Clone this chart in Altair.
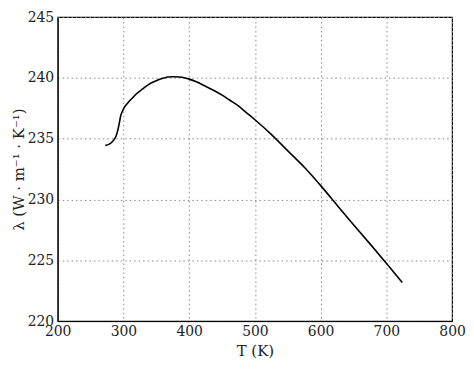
import altair as alt
import pandas as pd

T_K = [272.5, 278.5, 283, 286, 289, 291, 293.5, 296.2, 298, 300.5, 306, 313.7, 320, 328.8,
       338, 349, 360, 374, 386, 399, 411, 424, 437, 449.5, 462, 474.8, 487, 500.1,
       525.3, 550.5, 575.6, 600.8, 626, 651.3, 676.4, 701.6, 724.2]
lam = [234.45, 234.55, 234.75, 234.94, 235.25, 235.6, 236.2, 236.96, 237.2, 237.5, 237.9, 238.35, 238.7, 239.07,
       239.45, 239.75, 239.98, 240.1, 240.08, 239.92, 239.68, 239.34, 238.98, 238.6, 238.16, 237.7, 237.15, 236.56,
       235.34, 233.98, 232.63, 231.1, 229.46, 227.84, 226.27, 224.65, 223.17]

x_ticks = [200, 300, 400, 500, 600, 700, 800]
y_ticks = [220, 225, 230, 235, 240, 245]

df = pd.DataFrame({"T": T_K, "lam": lam})

font = "DejaVu Serif"

chart = alt.Chart(df).mark_line(color="black", strokeWidth=1.6, interpolate="monotone").encode(
    x=alt.X("T:Q",
            scale=alt.Scale(domain=[200, 800], nice=False, zero=False),
            axis=alt.Axis(values=x_ticks, title="T (K)", format="d",
                          labelPadding=3, titlePadding=6)),
    y=alt.Y("lam:Q",
            scale=alt.Scale(domain=[220, 245], nice=False, zero=False),
            axis=alt.Axis(values=y_ticks, title="λ (W · m⁻¹ · K⁻¹)", format="d",
                          labelPadding=4, titlePadding=1)),
).properties(
    width=397, height=306,
    padding={"left": 50, "top": 8, "right": 14, "bottom": 40},
    autosize=alt.AutoSizeParams(type="none"),
).configure_view(
    stroke="black", strokeWidth=1.2
).configure_axis(
    labelFont=font, titleFont=font, labelFontSize=14, titleFontSize=15,
    labelColor="#222", titleColor="#222", titleFontWeight="normal",
    domainColor="black", ticks=False,
    grid=True, gridColor="#888", gridDash=[1.5, 3], gridWidth=1,
    labelFlush=False,
)

chart.save("out.html", embed_options={"renderer": "svg", "actions": False})
